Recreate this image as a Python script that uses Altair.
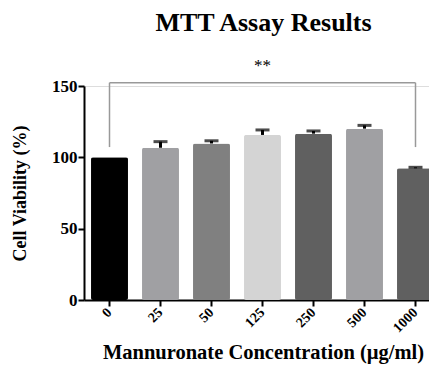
import altair as alt
import pandas as pd

concentrations = ["0", "25", "50", "125", "250", "500", "1000"]
viability = [100.0, 106.7, 109.7, 115.7, 116.6, 120.1, 92.3]
sem = [0.0, 4.3, 1.9, 3.5, 1.9, 2.3, 0.7]
bar_colors = ["#000000", "#a0a0a3", "#808080", "#d4d4d4", "#606060", "#a0a0a3", "#606060"]

bracket_from = ["0"]
bracket_to = ["1000"]
bracket_top = [152.3]
bracket_bottom = [107.2]
sig_label = ["**"]
sig_x = ["125"]
sig_y = [164.0]

FONT = "Liberation Serif"

df = pd.DataFrame({
    "conc": concentrations,
    "viab": viability,
    "sem": sem,
    "cap": [v + e for v, e in zip(viability, sem)],
})
br = pd.DataFrame({"x1": bracket_from, "x2": bracket_to, "top": bracket_top, "bottom": bracket_bottom})
sig = pd.DataFrame({"x": sig_x, "y": sig_y, "t": sig_label})

xscale = alt.Scale(domain=concentrations, range=[0, 357], paddingInner=0.275, paddingOuter=0.1375)
yscale = alt.Scale(domain=[0, 150], nice=False)

xaxis = alt.Axis(
    title="Mannuronate Concentration (µg/ml)",
    titleFont=FONT, titleFontSize=20.5, titleFontWeight="bold", titleColor="black",
    titleX=179, titleY=58, titleBaseline="alphabetic", titleAlign="center",
    labelFont=FONT, labelFontSize=14, labelFontWeight="bold", labelColor="black",
    labelAngle=-45, labelAlign="right", labelBaseline="middle", labelPadding=4,
    domainColor="black", domainWidth=2, tickColor="black", tickWidth=2, tickSize=6,
)
yaxis = alt.Axis(
    title="Cell Viability (%)", values=[0, 50, 100, 150],
    titleFont=FONT, titleFontSize=18, titleFontWeight="bold", titleColor="black",
    titleX=-64, titleY=107, titleBaseline="middle", titleAlign="center", titleAngle=-90,
    labelFont=FONT, labelFontSize=17, labelFontWeight="bold", labelColor="black",
    labelPadding=1, grid=False,
    domainColor="black", domainWidth=2, tickColor="black", tickWidth=2, tickSize=6,
)

base = alt.Chart(df)

bars = base.mark_bar(cornerRadius=2).encode(
    x=alt.X("conc:N", scale=xscale, axis=xaxis, sort=concentrations),
    y=alt.Y("viab:Q", scale=yscale, axis=yaxis),
    color=alt.Color("conc:N", scale=alt.Scale(domain=concentrations, range=bar_colors), legend=None),
)

errs = base.transform_filter("datum.sem > 0")

stems = errs.mark_rule(color="black", strokeWidth=3).encode(
    x=alt.X("conc:N", sort=concentrations),
    y="viab:Q",
    y2="cap:Q",
)

caps = errs.mark_tick(color="black", thickness=3, size=14, orient="horizontal").encode(
    x=alt.X("conc:N", sort=concentrations),
    y="cap:Q",
)

bchart = alt.Chart(br)
left_v = bchart.mark_rule(color="#999999", strokeWidth=1.5).encode(
    x=alt.X("x1:N"), y="bottom:Q", y2="top:Q")
right_v = bchart.mark_rule(color="#999999", strokeWidth=1.5).encode(
    x=alt.X("x2:N"), y="bottom:Q", y2="top:Q")
top_h = bchart.mark_rule(color="#999999", strokeWidth=1.5).encode(
    x=alt.X("x1:N"), x2="x2:N", y="top:Q")

stars = alt.Chart(sig).mark_text(font=FONT, fontSize=17, color="black", baseline="middle").encode(
    x=alt.X("x:N"), y="y:Q", text="t:N")

chart = alt.layer(bars, stems, caps, left_v, right_v, top_h, stars).properties(
    width=345, height=214,
    autosize=alt.AutoSizeParams(type="none"),
    padding={"left": 76, "top": 78, "right": 0, "bottom": 64},
    title=alt.TitleParams(
        "MTT Assay Results", font=FONT, fontSize=26, fontWeight="bold", color="black",
        anchor="middle", frame="group", dx=7, baseline="alphabetic", offset=0,
    ),
).configure_view(stroke=None).configure(background="white")

chart.save("out.html", embed_options={"renderer": "svg", "actions": False})
